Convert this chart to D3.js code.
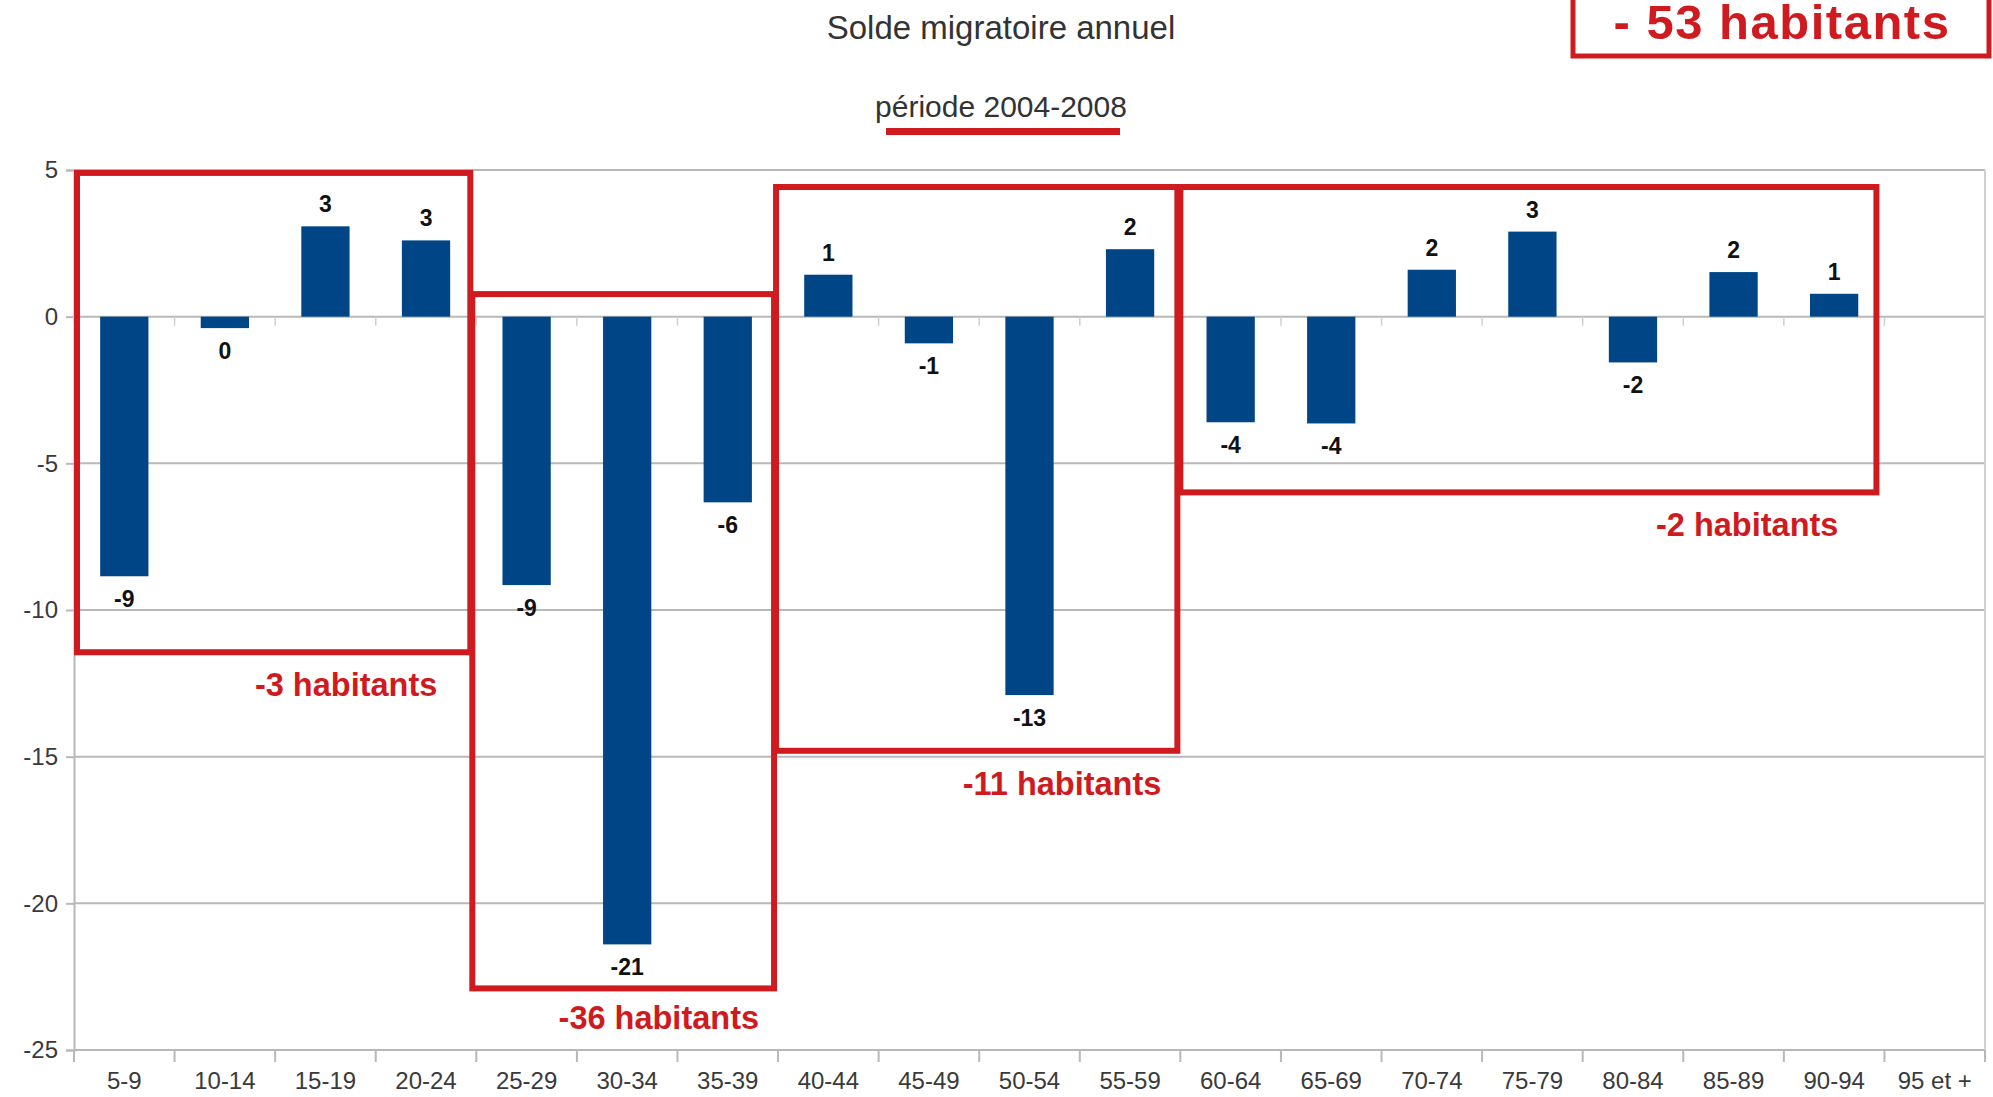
<!DOCTYPE html>
<html>
<head>
<meta charset="utf-8">
<script src="https://cdn.jsdelivr.net/npm/d3@7"></script>
<style>
  body { margin: 0; background: #ffffff; }
  text { font-family: "Liberation Sans", Arial, sans-serif; }
</style>
</head>
<body>
<div id="chart"></div>
<script>
// age groups and annual migration balance
var categories = ["5-9", "10-14", "15-19", "20-24", "25-29", "30-34", "35-39", "40-44", "45-49",
  "50-54", "55-59", "60-64", "65-69", "70-74", "75-79", "80-84", "85-89", "90-94", "95 et +"];
var values = [-8.85, -0.39, 3.08, 2.6, -9.15, -21.4, -6.33, 1.43, -0.91,
  -12.9, 2.3, -3.6, -3.64, 1.6, 2.9, -1.56, 1.52, 0.78, null];
var yTicks = [5, 0, -5, -10, -15, -20, -25];

// groups of age classes framed in red, with their totals
var groupFirst = ["5-9", "25-29", "40-44", "60-64"];
var groupLast = ["20-24", "35-39", "55-59", "90-94"];
var groupTotals = ["-3 habitants", "-36 habitants", "-11 habitants", "-2 habitants"];
var overallTotal = "- 53 habitants";

var title = "Solde migratoire annuel";
var subtitle = "période 2004-2008";

// layout of the red frames (y in data units, the rest in pixels)
var frameLayout = {
  top: [4.9, 0.77, 4.42, 4.42],
  bottom: [-11.44, -22.9, -14.8, -5.99],
  leftInset: [3, -4, -2, 0],
  rightInset: [-6, -4, -3, -8],
  labelDx: [33, 15, 16, 38],
  labelDy: [33, 30, 33, 33]
};

var width = 1993, height = 1097;
var margin = { top: 170, right: 8, bottom: 47, left: 74 };
var red = "#cf1b20";
var barColor = "#004586";
var gridColor = "#b8b8b8";

var svg = d3.select("#chart").append("svg")
  .attr("width", width)
  .attr("height", height);

// scales
var xScale = d3.scaleBand()
  .domain(categories)
  .range([margin.left, width - margin.right])
  .padding(0);

var yScale = d3.scaleLinear()
  .domain([-25, 5])
  .range([height - margin.bottom, margin.top]);

var bw = xScale.bandwidth();

// horizontal grid lines
svg.append("g")
  .selectAll("line")
  .data(yTicks)
  .join("line")
  .attr("x1", margin.left)
  .attr("x2", width - margin.right)
  .attr("y1", function (d) { return yScale(d); })
  .attr("y2", function (d) { return yScale(d); })
  .attr("stroke", gridColor)
  .attr("stroke-width", 2);

// right border of the plot area
svg.append("line")
  .attr("x1", width - margin.right)
  .attr("x2", width - margin.right)
  .attr("y1", yScale(5))
  .attr("y2", yScale(-25))
  .attr("stroke", "#d0d0d0")
  .attr("stroke-width", 2);

// y axis (plain hyphen for negatives, as in the picture)
var yAxis = d3.axisLeft(yScale)
  .tickValues(yTicks)
  .tickSize(8)
  .tickPadding(8)
  .tickFormat(function (d) { return String(d); });

var yAxisG = svg.append("g")
  .attr("transform", "translate(" + margin.left + ",0)")
  .call(yAxis);
yAxisG.select(".domain").attr("stroke", gridColor).attr("stroke-width", 2);
yAxisG.selectAll(".tick line").attr("stroke", gridColor).attr("stroke-width", 2);
yAxisG.selectAll(".tick text")
  .attr("fill", "#3a3a3a")
  .style("font-size", "24px");

// x axis at the bottom, ticks between categories
var xAxis = d3.axisBottom(xScale)
  .tickSize(0)
  .tickPadding(22);

var xAxisG = svg.append("g")
  .attr("transform", "translate(0," + yScale(-25) + ")")
  .call(xAxis);
xAxisG.select(".domain").remove();
xAxisG.selectAll(".tick text")
  .attr("fill", "#3a3a3a")
  .style("font-size", "24px");

var boundaries = categories.map(function (c) { return xScale(c); });
boundaries.push(xScale(categories[categories.length - 1]) + bw);

svg.append("g")
  .selectAll("line")
  .data(boundaries)
  .join("line")
  .attr("x1", function (d) { return d; })
  .attr("x2", function (d) { return d; })
  .attr("y1", yScale(-25))
  .attr("y2", yScale(-25) + 12)
  .attr("stroke", gridColor)
  .attr("stroke-width", 2);

// small ticks on the zero line
svg.append("g")
  .selectAll("line")
  .data(boundaries)
  .join("line")
  .attr("x1", function (d) { return d; })
  .attr("x2", function (d) { return d; })
  .attr("y1", yScale(0))
  .attr("y2", yScale(0) + 9)
  .attr("stroke", "#d0d0d0")
  .attr("stroke-width", 1.5);

// bars
var barData = categories.map(function (c, i) { return { cat: c, value: values[i] }; })
  .filter(function (d) { return d.value !== null; });

svg.append("g")
  .selectAll("rect")
  .data(barData)
  .join("rect")
  .attr("x", function (d) { return xScale(d.cat) + bw * 0.26; })
  .attr("width", bw * 0.48)
  .attr("y", function (d) { return yScale(Math.max(0, d.value)); })
  .attr("height", function (d) { return Math.abs(yScale(d.value) - yScale(0)); })
  .attr("fill", barColor);

// value labels
svg.append("g")
  .selectAll("text")
  .data(barData)
  .join("text")
  .attr("x", function (d) { return xScale(d.cat) + bw / 2; })
  .attr("y", function (d) { return d.value >= 0 ? yScale(d.value) - 22 : yScale(d.value) + 23; })
  .attr("text-anchor", "middle")
  .attr("dominant-baseline", "central")
  .attr("fill", "#111")
  .style("font-size", "23px")
  .style("font-weight", "bold")
  .text(function (d) { return String(Math.round(d.value) || 0); });

// title and subtitle
svg.append("text")
  .attr("x", 1001)
  .attr("y", 39)
  .attr("text-anchor", "middle")
  .attr("fill", "#333")
  .style("font-size", "33px")
  .text(title);

svg.append("text")
  .attr("x", 1001)
  .attr("y", 117)
  .attr("text-anchor", "middle")
  .attr("fill", "#333")
  .style("font-size", "30px")
  .text(subtitle);

svg.append("rect")
  .attr("x", 886)
  .attr("y", 128)
  .attr("width", 234)
  .attr("height", 7)
  .attr("fill", red);

// red frames around the groups
var frames = svg.append("g");
groupFirst.forEach(function (first, i) {
  var x0 = xScale(first) + frameLayout.leftInset[i];
  var x1 = xScale(groupLast[i]) + bw + frameLayout.rightInset[i];
  var y0 = yScale(frameLayout.top[i]);
  var y1 = yScale(frameLayout.bottom[i]);

  frames.append("rect")
    .attr("x", x0)
    .attr("y", y0)
    .attr("width", x1 - x0)
    .attr("height", y1 - y0)
    .attr("fill", "none")
    .attr("stroke", red)
    .attr("stroke-width", 6);

  frames.append("text")
    .attr("x", x1 - frameLayout.labelDx[i])
    .attr("y", y1 + frameLayout.labelDy[i])
    .attr("text-anchor", "end")
    .attr("dominant-baseline", "central")
    .attr("fill", red)
    .style("font-size", "32.5px")
    .style("font-weight", "bold")
    .text(groupTotals[i]);
});

// overall total box, top right
svg.append("rect")
  .attr("x", 1573)
  .attr("y", -10)
  .attr("width", 416)
  .attr("height", 66)
  .attr("fill", "#fff")
  .attr("stroke", red)
  .attr("stroke-width", 5);

svg.append("text")
  .attr("x", 1782)
  .attr("y", 39)
  .attr("text-anchor", "middle")
  .attr("fill", red)
  .style("font-size", "49px")
  .style("font-weight", "bold")
  .style("letter-spacing", "1.5px")
  .text(overallTotal);
</script>
</body>
</html>
